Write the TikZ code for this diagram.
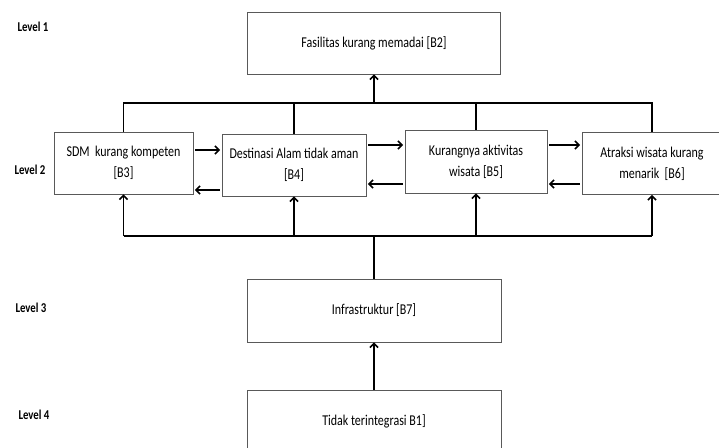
\documentclass[tikz,border=0pt]{standalone}
\usepackage{fontspec}
\setmainfont{Carlito}
\newfontfamily\teks[FakeStretch=0.8]{Carlito}
\usetikzlibrary{arrows.meta}

\begin{document}
\begin{tikzpicture}[x=1pt, y=-1pt,
    kotak/.style={draw=black!65, line width=0.8pt, minimum height=62pt, align=center,
        font=\teks\fontsize{15}{21}\selectfont, inner sep=2pt},
    level/.style={font=\teks\fontsize{13.5}{15}\selectfont\bfseries},
    jalur/.style={line width=1.6pt},
    panah/.style={line width=1.6pt, -{Straight Barb[length=4pt,width=8pt]}},
]
    \useasboundingbox (0,0) rectangle (719,447);
    \clip (0,0) rectangle (719,447);

    % label level
    \node[level] (l1) at (33,27) {Level 1};
    \node[level] (l2) at (30,170) {Level 2};
    \node[level] (l3) at (31,308) {Level 3};
    \node[level] (l4) at (34,415) {Level 4};

    % Level 1
    \node[kotak, minimum width=253pt] (b2) at (374,43) {Fasilitas kurang memadai [B2]};

    % Level 2
    \node[kotak, minimum width=139pt] (b3) at (123.5,163) {SDM\ \ kurang kompeten\\{}[B3]};
    \node[kotak, minimum width=144pt] (b4) at (294,165) {Destinasi Alam tidak aman\\{}[B4]};
    \node[kotak, minimum width=142pt, minimum height=63pt] (b5) at (476,161.5) {Kurangnya aktivitas\\wisata [B5]};
    \node[kotak, minimum width=140pt] (b6) at (652,163.5) {Atraksi wisata kurang\\menarik\ \ [B6]};

    % Level 3 dan 4
    \node[kotak, minimum width=254pt, minimum height=63pt] (b7) at (374,310.5) {Infrastruktur [B7]};
    \node[kotak, minimum width=254pt, minimum height=63pt] (b1) at (374,421.5) {Tidak terintegrasi B1]};

    % jalur atas
    \coordinate (atas) at (0,103);
    \draw[jalur] (b3.north) -- (b3.north |- atas) -- (b6.north |- atas) -- (b6.north);
    \draw[jalur] (b4.north) -- (b4.north |- atas);
    \draw[jalur] (b5.north) -- (b5.north |- atas);
    \draw[panah] (b2.south |- atas) -- (b2.south);

    % jalur bawah
    \coordinate (bawah) at (0,236);
    \draw[jalur] (b3.south |- bawah) -- (b6.south |- bawah);
    \foreach \b in {b3,b4,b5,b6} {
        \draw[panah] (\b.south |- bawah) -- (\b.south);
    }
    \draw[jalur] (b7.north) -- (b7.north |- bawah);
    \draw[panah] (b1.north) -- (b7.south);

    % panah antar kotak
    \draw[panah, shorten <=2pt, shorten >=1.5pt] ([yshift=13pt]b3.east) -- ([yshift=13pt]b3.east -| b4.west);
    \draw[panah, shorten <=2pt, shorten >=1.5pt] ([yshift=-27pt]b3.east -| b4.west) -- ([yshift=-27pt]b3.east);
    \draw[panah, shorten <=2pt, shorten >=1.5pt] ([yshift=20pt]b4.east) -- ([yshift=20pt]b4.east -| b5.west);
    \draw[panah, shorten <=2pt, shorten >=1.5pt] ([yshift=-19pt]b4.east -| b5.west) -- ([yshift=-19pt]b4.east);
    \draw[panah, shorten <=2pt, shorten >=1.5pt] ([yshift=16.5pt]b5.east) -- ([yshift=16.5pt]b5.east -| b6.west);
    \draw[panah, shorten <=2pt, shorten >=1.5pt] ([yshift=-22.5pt]b5.east -| b6.west) -- ([yshift=-22.5pt]b5.east);
\end{tikzpicture}
\end{document}
